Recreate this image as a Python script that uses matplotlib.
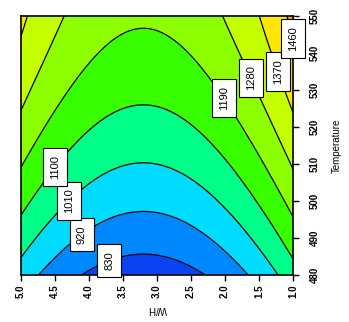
import numpy as np
import matplotlib
matplotlib.use("Agg")
import matplotlib.pyplot as plt

# Factor ranges (W/H ratio and temperature)
hw_range = [1.0, 5.0]
temp_range = [480.0, 550.0]

# Quadratic response-surface model in coded units A=(W/H-3)/2, B=(T-515)/35
model_terms = ["const", "A", "B", "A^2", "B^2"]
model_coef = [1041.1, -46.4, 209.5, 232.0, -47.0]

# Contour levels and band colours
levels = [830, 920, 1010, 1100, 1190, 1280, 1370, 1460]
band_colors = ["#0a44f2", "#0088ff", "#00dcff", "#00ff88", "#38ff00",
               "#8cff00", "#c4ff00", "#ffe600", "#ff9a1e"]

hw_ticks = [5.0, 4.5, 4.0, 3.5, 3.0, 2.5, 2.0, 1.5, 1.0]
temp_ticks = [480, 490, 500, 510, 520, 530, 540, 550]

# where each contour label sits (W/H, temperature)
label_spots = [(3.72, 484.6), (4.13, 491.6), (4.31, 500.3), (4.53, 509.7),
               (2.06, 527.3), (1.65, 533.0), (1.25, 534.9), (1.09, 543.5)]

hw = np.linspace(hw_range[0], hw_range[1], 301)
temp = np.linspace(temp_range[0], temp_range[1], 301)
HW, T = np.meshgrid(hw, temp)
A = (HW - 3.0) / 2.0
B = (T - 515.0) / 35.0
c = model_coef
Z = c[0] + c[1] * A + c[2] * B + c[3] * A ** 2 + c[4] * B ** 2

plt.rcParams["font.family"] = ["Liberation Sans", "DejaVu Sans"]
fig = plt.figure(figsize=(3.49, 3.22), dpi=100)
ax = fig.add_axes([0.060, 0.146, 0.7795, 0.804])

bounds = [min(Z.min(), levels[0]) - 10] + levels + [max(Z.max(), levels[-1]) + 10]
ax.contourf(HW, T, Z, levels=bounds, colors=band_colors)
cs = ax.contour(HW, T, Z, levels=levels, colors="black", linewidths=0.9)
texts = ax.clabel(cs, levels=levels, inline=False, manual=label_spots,
                  fmt="%d", fontsize=8)
for t in texts:
    t.set_rotation(90)
    t.set_color("black")
    t.set_bbox(dict(boxstyle="square,pad=0.62", fc="white", ec="black", lw=0.8))
    t.set_clip_on(False)

ax.set_xlim(hw_range[1], hw_range[0])
ax.set_ylim(temp_range[0], temp_range[1])
ax.set_xticks(hw_ticks)
ax.set_xticklabels([f"{v:.1f}" for v in hw_ticks], rotation=90, fontsize=7,
                   fontweight="bold")
ax.yaxis.tick_right()
ax.yaxis.set_label_position("right")
ax.set_yticks(temp_ticks)
ax.set_yticklabels([str(v) for v in temp_ticks], rotation=90, fontsize=7,
                   fontweight="bold", va="center")
ax.tick_params(axis="x", direction="out", length=4, width=1, pad=3)
ax.tick_params(axis="y", direction="out", length=4, width=1, pad=8)
ax.set_xlabel("W/H", rotation=180, fontsize=7, labelpad=4)
ax.set_ylabel("Temperature", rotation=90, fontsize=7, labelpad=9)
for s in ax.spines.values():
    s.set_linewidth(1.2)

fig.savefig("out.png", dpi=100)
